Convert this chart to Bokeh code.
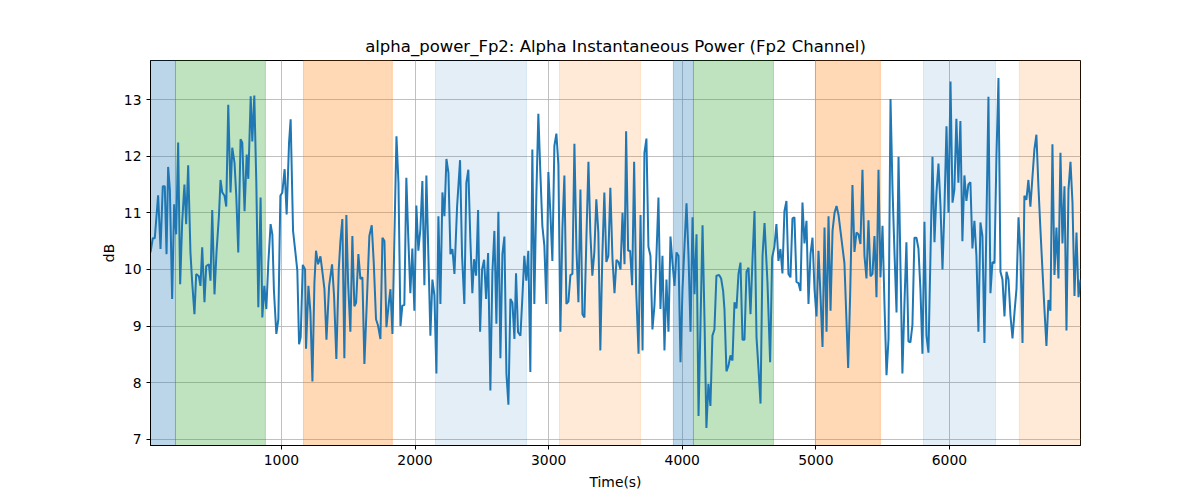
from bokeh.plotting import figure
from bokeh.models import Range1d, FixedTicker, BoxAnnotation
from bokeh.embed import file_html
from bokeh.resources import INLINE

# ---- data ----
time_s = [
    20, 37, 52, 77, 95, 112, 127, 140, 152, 165, 182, 197, 212, 227, 242, 257, 274, 287, 302, 319,
    332, 349, 362, 382, 394, 407, 424, 437, 457, 469, 482, 499, 514, 532, 544, 557, 574, 587, 602, 619,
    632, 649, 662, 677, 694, 707, 724, 740, 752, 770, 782, 797, 812, 827, 844, 857, 872, 887, 902, 919,
    932, 944, 962, 977, 992, 1007, 1024, 1039, 1057, 1069, 1087, 1102, 1119, 1132, 1144, 1160, 1177,
    1184, 1202, 1217, 1232, 1247, 1259, 1274, 1292, 1307, 1322, 1337, 1357, 1379, 1394, 1411, 1429, 1441,
    1456, 1471, 1486, 1499, 1516, 1531, 1546, 1559, 1576, 1591, 1606, 1621, 1641, 1658, 1676, 1691, 1708,
    1723, 1741, 1756, 1771, 1786, 1803, 1816, 1831, 1861, 1876, 1891, 1905, 1920, 1935, 1950, 1965, 1980,
    1995, 2010, 2025, 2040, 2055, 2070, 2085, 2100, 2115, 2130, 2145, 2160, 2175, 2190, 2205, 2220, 2235,
    2250, 2265, 2280, 2295, 2315,
    2337, 2352, 2369, 2384, 2399, 2414, 2429, 2442, 2457, 2472, 2487, 2502, 2517, 2532, 2547, 2564, 2579,
    2594, 2609, 2624, 2639, 2654, 2669, 2684, 2699, 2714, 2729, 2744, 2756, 2771, 2789, 2804, 2818, 2833,
    2848, 2863, 2878, 2893, 2908, 2923, 2938, 2953, 2968, 2983, 2998, 3013, 3028, 3043, 3058, 3073, 3088,
    3103, 3118, 3133, 3148, 3163, 3178, 3193, 3208, 3223, 3238, 3253, 3268, 3283, 3298, 3312, 3327, 3342,
    3357, 3372, 3387, 3402, 3417, 3432, 3447, 3462,
    3478, 3493, 3508, 3523, 3538, 3553, 3568, 3580, 3595, 3610, 3625, 3640, 3655, 3673, 3688, 3703, 3717,
    3732, 3747, 3762, 3777, 3792, 3807, 3822, 3837, 3852, 3867, 3882, 3897, 3912, 3927, 3942, 3957, 3972,
    3987, 4002, 4017, 4032, 4047, 4062, 4077, 4092, 4107, 4122, 4137, 4152, 4167, 4181, 4196, 4211, 4226,
    4241, 4256, 4276, 4291, 4306, 4316, 4331, 4346, 4361, 4376, 4391, 4406, 4421, 4436, 4451, 4466, 4481,
    4496, 4511, 4526, 4541, 4556, 4571, 4586, 4601, 4616,
    4638, 4658, 4673, 4690, 4705, 4720, 4735, 4750, 4765, 4780, 4795, 4810, 4825, 4840, 4855, 4870, 4885,
    4900, 4915, 4930, 4945, 4960, 4975, 4990, 5005, 5020, 5035, 5050, 5065, 5080, 5095, 5110, 5125, 5140,
    5155, 5170, 5214, 5242, 5257, 5274, 5289, 5304, 5319, 5334, 5349, 5364, 5379, 5394, 5409, 5424, 5439,
    5454, 5469, 5484, 5499, 5514, 5529, 5544, 5559, 5574, 5589, 5604, 5619, 5634, 5648, 5663, 5678, 5693,
    5708, 5723, 5738, 5753, 5768, 5783,
    5798, 5813, 5828, 5843, 5858, 5873, 5888, 5903, 5918, 5933, 5948, 5963, 5978, 5993, 6008, 6023, 6037,
    6052, 6067, 6082, 6097, 6112, 6127, 6142, 6157, 6172, 6187, 6202, 6217, 6232, 6247, 6262, 6277, 6292,
    6307, 6322, 6337, 6352, 6367, 6382, 6397, 6412, 6427, 6442, 6457, 6472, 6487, 6502, 6517, 6532, 6547,
    6561, 6576, 6591, 6606, 6621, 6636, 6651, 6666, 6681, 6696, 6711, 6726, 6741, 6756, 6771, 6786, 6801,
    6816, 6831, 6846, 6861, 6876, 6891, 6906, 6921, 6936, 6951, 6966, 6981,
]
power_db = [
    10.30, 10.55, 10.55, 11.31, 10.36, 11.47, 11.47, 10.27, 11.81, 11.41, 9.48, 11.15, 10.62, 12.24, 9.74, 10.83, 11.50, 10.80, 11.84, 10.30,
    9.77, 9.21, 9.92, 9.88, 9.71, 10.39, 9.42, 10.06, 10.09, 9.80, 11.05, 9.56, 10.30, 10.94, 11.58, 11.36, 11.30, 11.11, 12.91, 11.36,
    12.15, 11.88, 11.30, 10.30, 12.30, 12.24, 11.03, 12.03, 11.60, 13.06, 12.26, 13.07, 11.53, 9.33, 11.27, 9.15, 9.71, 9.30, 10.12, 10.80,
    10.62, 9.62, 8.86, 9.12, 11.30, 11.36, 11.77, 10.97, 12.24, 12.65, 10.68, 10.36, 9.98, 8.68, 8.80, 10.08, 10.00,
    8.60, 9.71, 9.24, 8.02, 9.77, 10.33, 10.09, 10.23, 9.95, 9.65, 8.76, 9.71, 10.09, 9.53, 8.42, 10.00, 10.48,
    10.89, 8.43, 10.96, 9.77, 8.90, 10.59, 9.35, 9.41, 10.27, 9.83, 9.86, 8.33, 9.53, 10.59, 10.78, 10.12, 9.12,
    9.01, 8.77, 10.56, 10.50, 8.98, 9.39, 9.65, 8.86, 12.35, 11.53, 9.00, 9.36, 9.37, 11.62, 10.53, 9.58, 10.37,
    9.27, 11.13, 10.33, 10.71, 11.56, 9.72, 11.66, 10.24, 8.83, 9.82, 9.54, 8.16, 10.94, 9.39, 11.36, 10.94, 11.95,
    11.71, 10.27, 10.36, 9.92, 11.12,
    11.93, 10.24, 9.39, 11.53, 11.76, 10.53, 9.58, 10.18, 9.89, 11.05, 8.90, 10.00, 10.17, 9.48, 10.29, 7.86, 9.95,
    10.68, 9.04, 11.02, 8.43, 10.27, 10.58, 8.16, 7.61, 9.48, 9.41, 8.77, 9.93, 8.89, 8.83, 9.53, 10.24, 9.80,
    10.33, 8.19, 12.12, 9.39, 11.30, 12.75, 11.71, 10.77, 10.42, 9.39, 11.72, 11.00, 10.15, 12.18, 12.40, 11.85, 8.90,
    10.71, 11.66, 9.39, 9.43, 9.90, 9.92, 12.22, 10.37, 9.42, 11.41, 9.21, 9.15, 10.58, 11.90, 10.66, 9.89, 10.30,
    11.24, 10.65, 8.57, 10.24, 11.36, 10.13, 10.24, 11.44,
    10.18, 9.58, 10.17, 10.13, 10.00, 11.00, 10.09, 12.44, 10.33, 10.33, 9.72, 11.90, 9.65, 8.51, 10.96, 8.57, 12.06,
    12.31, 10.40, 10.24, 8.94, 9.36, 10.24, 11.27, 9.30, 10.24, 8.57, 9.82, 8.90, 10.58, 10.12, 9.71, 10.30, 10.24,
    8.36, 9.65, 10.42, 11.17, 10.24, 8.90, 10.92, 9.56, 10.62, 7.41, 9.07, 10.78, 9.07, 7.20, 7.98, 7.59, 8.83,
    8.94, 9.89, 9.90, 9.84, 9.62, 9.30, 8.20, 8.30, 8.48, 8.39, 9.42, 9.31, 9.92, 10.12, 8.76, 8.76, 9.96,
    10.03, 9.21, 10.18, 11.03, 8.80, 8.24, 7.63, 10.24, 10.82,
    9.77, 8.36, 10.21, 10.40, 10.80, 10.15, 10.36, 9.93, 11.03, 11.21, 9.92, 9.86, 10.90, 10.92, 9.78, 9.76, 9.62,
    11.18, 10.46, 10.86, 9.39, 10.27, 10.56, 9.65, 9.17, 10.33, 9.53, 8.63, 10.74, 8.90, 10.94, 9.27, 10.68, 11.00,
    11.12, 10.96, 10.11, 8.26, 9.56, 11.49, 10.31, 10.65, 10.62, 10.45, 11.76, 10.24, 9.84, 10.87, 9.88, 9.92, 10.59,
    9.51, 11.76, 9.86, 10.77, 9.37, 8.13, 8.77, 13.01, 11.41, 10.27, 9.24, 11.99, 9.98, 8.16, 9.37, 10.48, 8.73,
    8.71, 9.02, 10.56, 10.56, 10.37, 9.64,
    8.51, 10.84, 8.83, 8.53, 10.24, 11.99, 10.48, 11.36, 11.87, 11.12, 10.00, 11.12, 12.53, 11.00, 13.32, 11.18, 11.41,
    12.66, 11.53, 12.62, 10.50, 11.66, 11.21, 11.50, 11.54, 10.37, 10.86, 10.24, 8.90, 10.83, 10.59, 8.70, 10.83, 13.05,
    9.58, 10.13, 10.11, 12.00, 13.38, 9.96, 9.82, 9.17, 9.96, 9.82, 9.18, 8.78, 9.24, 9.66, 10.92, 10.24, 8.70,
    11.30, 11.23, 11.58, 11.11, 11.62, 12.12, 12.38, 11.47, 10.71, 10.00, 9.30, 8.65, 9.46, 9.27, 12.21, 9.90, 10.74,
    9.84, 12.06, 10.46, 11.47, 8.92, 11.41, 11.90, 11.18, 9.53, 10.65, 9.51, 9.82,
]

span_start = [20, 207, 1165, 2153, 3081, 3934, 4084, 4997, 5806, 6523]
span_end = [207, 880, 1830, 2834, 3687, 4084, 4683, 5483, 6345, 6981]
span_color = ["#1f77b4", "#2ca02c", "#ff7f0e", "#1f77b4", "#ff7f0e",
              "#1f77b4", "#2ca02c", "#ff7f0e", "#1f77b4", "#ff7f0e"]
span_alpha = [0.3, 0.3, 0.3, 0.12, 0.16, 0.3, 0.3, 0.3, 0.12, 0.16]

x_ticks = [1000, 2000, 3000, 4000, 5000, 6000]
y_ticks = [7, 8, 9, 10, 11, 12, 13]

FONT = "DejaVu Sans"

p = figure(
    frame_width=930, frame_height=385,
    min_border_left=150, min_border_right=112, min_border_top=60, min_border_bottom=47,
    x_range=Range1d(time_s[0], time_s[-1]), y_range=Range1d(6.89, 13.69),
    output_backend="svg", toolbar_location=None,
    title="alpha_power_Fp2: Alpha Instantaneous Power (Fp2 Channel)",
    background_fill_color="white", border_fill_color="white",
)

for s, e, c, a in zip(span_start, span_end, span_color, span_alpha):
    p.add_layout(BoxAnnotation(left=s, right=e, fill_color=c, fill_alpha=a,
                               line_color=c, line_alpha=a, line_width=1, level="underlay"))

p.line(time_s, power_db, line_color="#1f77b4", line_width=2)

p.title.align = "center"
p.title.text_font = FONT
p.title.text_font_size = "16.5px"
p.title.text_font_style = "normal"
p.title.text_color = "black"

p.xaxis.axis_label = "Time(s)"
p.yaxis.axis_label = "dB"
for ax in (p.xaxis, p.yaxis):
    ax.axis_label_text_font = FONT
    ax.axis_label_text_font_size = "13.9px"
    ax.axis_label_text_font_style = "normal"
    ax.axis_label_text_color = "black"
    ax.major_label_text_font = FONT
    ax.major_label_text_font_size = "13.9px"
    ax.major_label_text_color = "black"
    ax.major_tick_in = 0
    ax.major_tick_out = 4
    ax.minor_tick_in = 0
    ax.minor_tick_out = 0
    ax.major_tick_line_color = "black"
    ax.axis_line_color = "black"

p.xaxis.ticker = FixedTicker(ticks=x_ticks)
p.yaxis.ticker = FixedTicker(ticks=y_ticks)
p.xaxis.axis_label_standoff = 6
p.yaxis.axis_label_standoff = 4

p.xgrid.ticker = FixedTicker(ticks=x_ticks)
p.ygrid.ticker = FixedTicker(ticks=y_ticks)
p.grid.grid_line_color = "#b0b0b0"
p.grid.grid_line_width = 0.8

p.outline_line_color = "black"
p.outline_line_width = 1
p.outline_line_alpha = 1

open("out.html", "w").write(file_html(p, INLINE))
